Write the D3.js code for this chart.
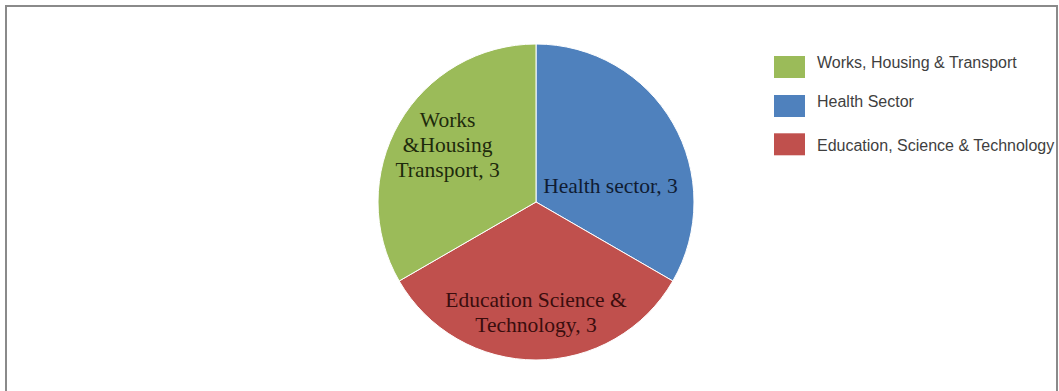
<!DOCTYPE html>
<html>
<head>
<meta charset="utf-8">
<script src="https://cdn.jsdelivr.net/npm/d3@7/dist/d3.min.js"></script>
<style>
  html, body { margin: 0; padding: 0; background: #fff; }
  svg { display: block; }
</style>
</head>
<body>
<svg id="chart" width="1059" height="391"></svg>
<script>
// Sectors and their counts (drawn clockwise from 12 o'clock)
const categories = ["Health Sector", "Education, Science & Technology", "Works, Housing & Transport"];
const values = [3, 3, 3];
// In-slice label lines
const sliceLabels = [
  ["Health sector, 3"],
  ["Education Science &", "Technology, 3"],
  ["Works", "&Housing", "Transport, 3"]
];
// Legend order
const legendOrder = ["Works, Housing & Transport", "Health Sector", "Education, Science & Technology"];

const colors = {
  "Works, Housing & Transport": "#9bbb59",
  "Health Sector": "#4f81bd",
  "Education, Science & Technology": "#c0504d"
};
const labelColors = {
  "Works, Housing & Transport": "#1e2a0c",
  "Health Sector": "#0f1c33",
  "Education, Science & Technology": "#3a0d0d"
};
// label anchor: fraction of radius and angle (degrees clockwise from top)
const labelPlacement = {
  "Health Sector": { rf: 0.482, deg: 78 },
  "Education, Science & Technology": { rf: 0.697, deg: 180 },
  "Works, Housing & Transport": { rf: 0.667, deg: 303 }
};

const svg = d3.select("#chart");

// outer frame
svg.append("rect")
  .attr("x", 6).attr("y", 6)
  .attr("width", 1051).attr("height", 400)
  .attr("fill", "none")
  .attr("stroke", "#8a8a8a")
  .attr("stroke-width", 2);

const cx = 536, cy = 202, R = 158;
const g = svg.append("g").attr("transform", `translate(${cx},${cy})`);

const pie = d3.pie().sort(null).value(d => d.value);
const data = categories.map((c, i) => ({ cat: c, value: values[i], lines: sliceLabels[i] }));
const arcs = pie(data);
const arc = d3.arc().innerRadius(0).outerRadius(R);

g.selectAll("path.slice")
  .data(arcs)
  .join("path")
  .attr("class", "slice")
  .attr("d", arc)
  .attr("fill", d => colors[d.data.cat])
  .attr("stroke", "#ffffff")
  .attr("stroke-width", 1);

const fontSize = 21.5, lineH = 25;
arcs.forEach(a => {
  const p = labelPlacement[a.data.cat];
  const t = p.deg * Math.PI / 180;
  const x = Math.sin(t) * R * p.rf;
  const y = -Math.cos(t) * R * p.rf;
  const n = a.data.lines.length;
  const text = g.append("text")
    .attr("text-anchor", "middle")
    .attr("font-family", "'Liberation Serif', 'Times New Roman', serif")
    .attr("font-size", fontSize)
    .attr("fill", labelColors[a.data.cat]);
  a.data.lines.forEach((ln, i) => {
    text.append("tspan")
      .attr("x", x)
      .attr("y", y + (i - (n - 1) / 2) * lineH + 7)
      .text(ln);
  });
});

// legend: swatch rows and text baselines
const swatchTop = [0, 39, 77.3];
const textBaseline = [12.3, 50.7, 94.7];
const legend = svg.append("g").attr("transform", "translate(774,56)");
const item = legend.selectAll("g")
  .data(legendOrder)
  .join("g");
item.append("rect")
  .attr("y", (d, i) => swatchTop[i])
  .attr("width", 31).attr("height", 22)
  .attr("fill", d => colors[d]);
item.append("text")
  .attr("x", 43).attr("y", (d, i) => textBaseline[i])
  .attr("font-family", "'Liberation Sans', Arial, sans-serif")
  .attr("font-size", 16)
  .attr("fill", "#3f3f3f")
  .text(d => d);
</script>
</body>
</html>
